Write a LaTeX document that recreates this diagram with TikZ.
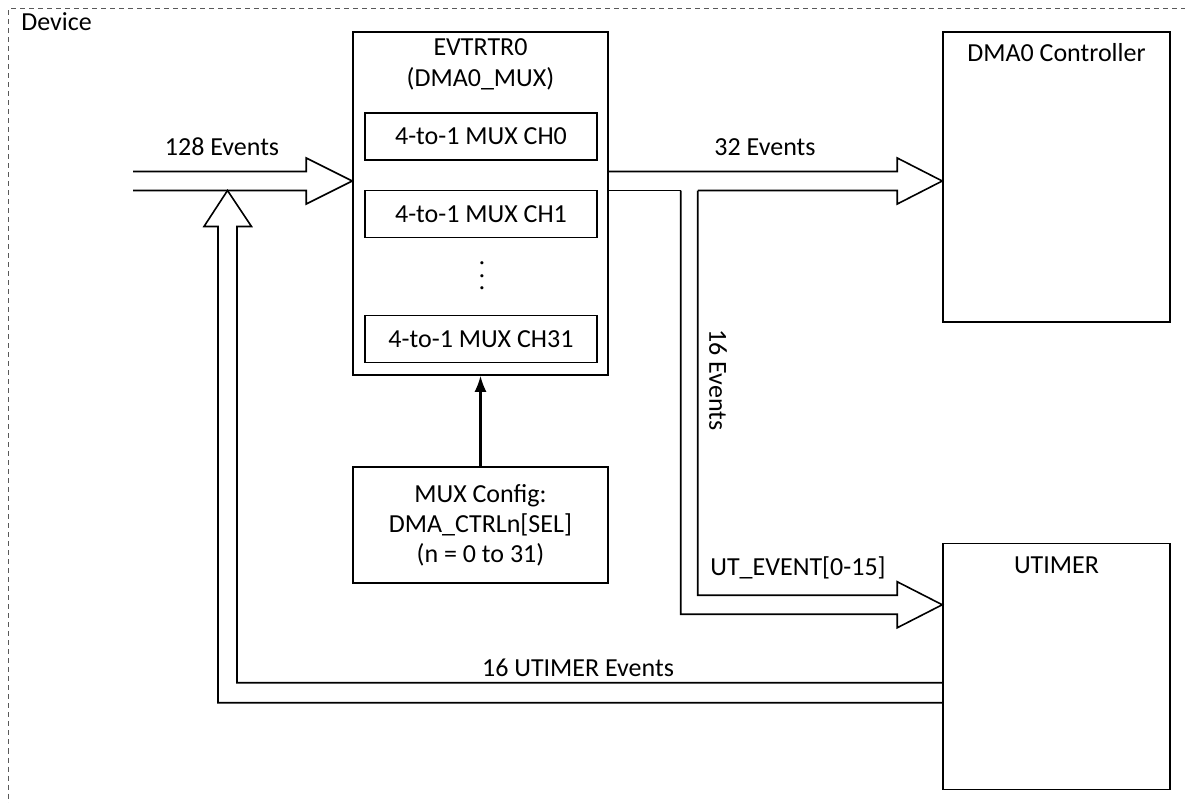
\documentclass[tikz,border=0pt]{standalone}
\usepackage{fontspec}
\setmainfont{Carlito}
\usetikzlibrary{arrows.meta,calc,positioning}

\begin{document}
\begin{tikzpicture}[x=0.5pt, y=-0.5pt,
    every node/.style={font=\fontsize{13}{15.5}\selectfont, inner sep=0pt},
    block/.style={rectangle, draw=black, line width=0.75pt},
    muxch/.style={block, minimum width=116pt, minimum height=23.5pt},
    frame/.style={rectangle, draw=black!65, line width=0.5pt, dash pattern=on 2.5pt off 2pt},
    bus/.style={draw=black, line width=0.8pt, line join=miter}]
    \useasboundingbox (0,0) rectangle (1185,803);

    % device frame (runs off the page on the right and at the bottom)
    \node (device) [frame, anchor=north west, minimum width=600pt, minimum height=410pt] at (8,8) {};
    \node (devlbl) [anchor=west] at (21,22) {Device};

    % event router
    \node (mux) [block, minimum width=127.5pt, minimum height=171.5pt] at (480.5,203.5) {};
    \node (muxlbl) [align=center, anchor=north] at (480.5,38) {EVTRTR0\\(DMA0\_MUX)};
    \node (ch0) [muxch] at (481,136.5) {4-to-1 MUX CH0};
    \node (ch1) [muxch, below=14.5pt of ch0] {4-to-1 MUX CH1};
    \node (ch31) [muxch] at (481,339) {4-to-1 MUX CH31};
    \node (dots) [rotate=90] at (482,276) {.\ .\ .};

    \node (cfg) [block, minimum width=127.5pt, minimum height=58pt, align=center,
        font=\fontsize{13}{15}\selectfont] at (480.5,525)
        {MUX Config:\\DMA\_CTRLn[SEL]\\(n = 0 to 31)};

    \node (dma) [block, minimum width=113.5pt, minimum height=145pt] at (1056.5,177) {};
    \node (dmalbl) [below=6pt of dma.north] {DMA0 Controller};
    \node (utimer) [block, minimum width=113.5pt, minimum height=123pt] at (1056.5,666.5) {};
    \node (utlbl) [below=7pt of utimer.north] {UTIMER};

    % bus end points
    \coordinate (in) at (133,181);
    \coordinate (intip) at (mux.west |- in);
    \coordinate (out) at (mux.east |- in);
    \coordinate (dmatip) at (dma.west |- in);
    \coordinate (uttip) at ($(utimer.north west)+(0,62)$);
    \coordinate (uptip) at (227.5,190.5);

    % incoming events
    \draw[bus] ($(in)+(0,-9.5)$) -- ($(intip)+(-46,-9.5)$) -- ++(0,-13.5) -- (intip)
        -- ($(intip)+(-46,23)$) -- ++(0,-13.5) -- ($(in)+(0,9.5)$);
    \node (inlbl) at (222,147) {128 Events};

    % to DMA0
    \draw[bus] ($(out)+(0,-9.5)$) -- ($(dmatip)+(-45,-9.5)$) -- ++(0,-13.5) -- (dmatip)
        -- ($(dmatip)+(-45,23)$) -- ++(0,-13.5) -- ($(out)+(89,9.5)$);
    \draw[bus] ($(out)+(72,9.5)$) -- ($(out)+(0,9.5)$);
    \node (dmaevt) at (765,147) {32 Events};

    % branch to UTIMER
    \draw[bus] ($(out)+(89,9.5)$) |- ($(uttip)+(-45,-9.5)$) -- ++(0,-13.5) -- (uttip)
        -- ($(uttip)+(-45,23)$) -- ++(0,-13.5) -| ($(out)+(72,9.5)$);
    \node (brlbl) [rotate=-90] at (718,380) {16 Events};
    \node (utevt) at (798,568) {UT\_EVENT[0-15]};

    % UTIMER events back to the router input
    \draw[bus] ($(utimer.north west)+(0,140)$) -| ($(uptip)+(9.5,36)$) -- ++(14.5,0) -- (uptip)
        -- ($(uptip)+(-23.5,36)$) -- ++(14,0) |- ($(utimer.north west)+(0,160)$);
    \node (fblbl) at (578,668) {16 UTIMER Events};

    % configuration
    \draw[-{Latex[length=8pt,width=6pt]}, line width=1.1pt] (cfg) -- (mux);
\end{tikzpicture}
\end{document}
